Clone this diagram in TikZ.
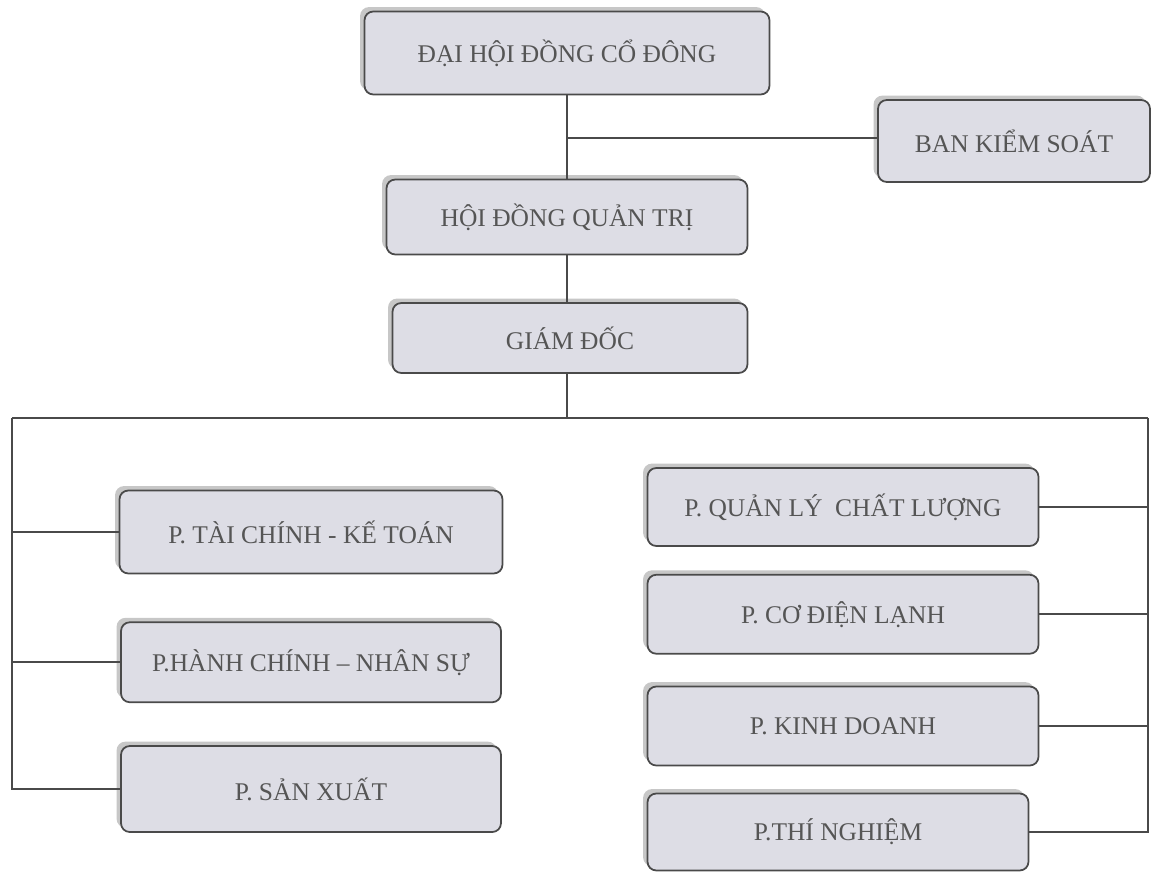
\documentclass[tikz,border=0pt]{standalone}
\usepackage{fontspec}
\setmainfont{Liberation Serif}
\usepackage{tikz}
\usetikzlibrary{positioning,shadows,calc}

\definecolor{boxfill}{HTML}{DDDDE5}
\definecolor{boxline}{HTML}{4A4A4A}
\definecolor{boxtext}{HTML}{555555}

\begin{document}
\begin{tikzpicture}[
    unit/.style={draw=boxline, line width=1pt, fill=boxfill, rounded corners=5pt, align=center,
      text=boxtext, font=\fontsize{14.5}{17}\selectfont, inner sep=2pt,
      drop shadow={shadow xshift=-2.5pt, shadow yshift=2.5pt, fill=gray!55, opacity=0.8}},
    link/.style={draw=boxline, line width=1pt}]

    \useasboundingbox (0,0) rectangle (23.02,-17.5);

    % top of the chart
    \node[unit, minimum width=8.1cm, minimum height=1.66cm] (dhdcd) at (11.34,-1.06) {ĐẠI HỘI ĐỒNG CỔ ĐÔNG};
    \node[unit, minimum width=5.44cm, minimum height=1.64cm] (bks) at (20.28,-2.82) {BAN KIỂM SOÁT};
    \node[unit, minimum width=7.22cm, minimum height=1.5cm] (hdqt) at (11.34,-4.34) {HỘI ĐỒNG QUẢN TRỊ};
    \node[unit, minimum width=7.1cm, minimum height=1.4cm] (gd) at (11.4,-6.76) {GIÁM ĐỐC};

    % left departments
    \node[unit, minimum width=7.66cm, minimum height=1.66cm] (tckt) at (6.22,-10.64) {P. TÀI CHÍNH - KẾ TOÁN};
    \node[unit, minimum width=7.6cm, minimum height=1.6cm, below=0.94cm of tckt.south, anchor=north] (hcns) {P.HÀNH CHÍNH – NHÂN SỰ};
    \node[unit, minimum width=7.6cm, minimum height=1.72cm, below=0.84cm of hcns.south, anchor=north] (sx) {P. SẢN XUẤT};

    % right departments
    \node[unit, minimum width=7.82cm, minimum height=1.56cm] (qlcl) at (16.86,-10.14) {P. QUẢN LÝ\ \ CHẤT LƯỢNG};
    \node[unit, minimum width=7.82cm, minimum height=1.58cm, below=0.54cm of qlcl.south, anchor=north] (cdl) {P. CƠ ĐIỆN LẠNH};
    \node[unit, minimum width=7.82cm, minimum height=1.58cm, below=0.62cm of cdl.south, anchor=north] (kd) {P. KINH DOANH};
    \node[unit, minimum width=7.62cm, minimum height=1.54cm] (tn) at (16.76,-16.64) {P.THÍ NGHIỆM};

    \coordinate (tee) at (11.34,-2.76);
    \coordinate (bus) at (11.34,-8.36);
    \coordinate (lrail) at (0.24,-8.36);
    \coordinate (rrail) at (22.96,-8.36);

    \draw[link] (dhdcd.south -| tee) -- (hdqt.north -| tee);
    \draw[link] (tee) -- (tee -| bks.west);
    \draw[link] (hdqt.south -| tee) -- (gd.north -| tee);
    \draw[link] (gd.south -| bus) -- (bus);
    \draw[link] (lrail) -- (rrail);

    \draw[link] (lrail) |- (sx.west);
    \draw[link] (tckt.west) -- (tckt.west -| lrail);
    \draw[link] (hcns.west) -- (hcns.west -| lrail);

    \draw[link] (rrail) |- (tn.east);
    \draw[link] (qlcl.east) -- (qlcl.east -| rrail);
    \draw[link] (cdl.east) -- (cdl.east -| rrail);
    \draw[link] (kd.east) -- (kd.east -| rrail);
\end{tikzpicture}
\end{document}
